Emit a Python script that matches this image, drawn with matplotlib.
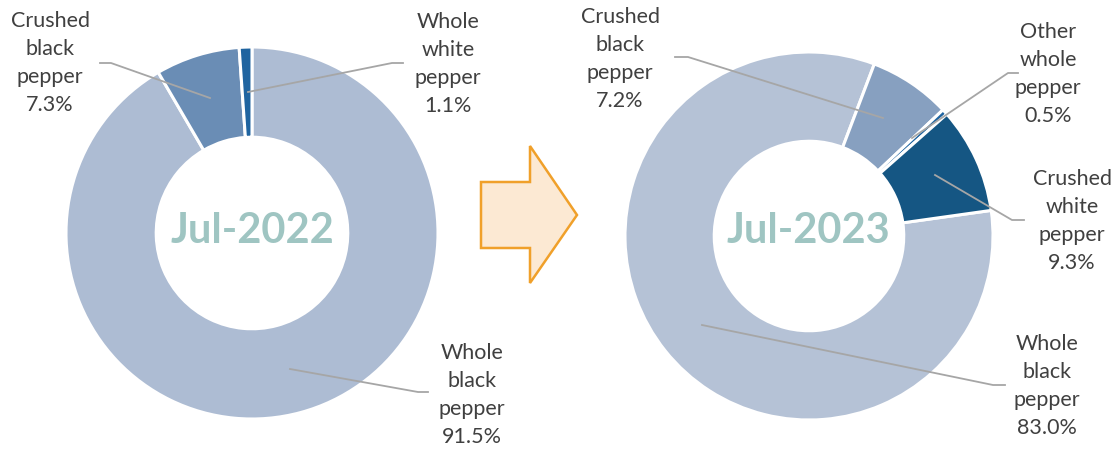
import matplotlib.pyplot as plt
from matplotlib.patches import Polygon

W, H = 1117, 449

# data
labels_2022 = ["Whole\nblack\npepper", "Crushed\nblack\npepper", "Whole\nwhite\npepper"]
values_2022 = [91.5, 7.3, 1.1]
colors_2022 = ["#adbcd3", "#6a8db5", "#1f64a0"]

labels_2023 = ["Whole\nblack\npepper", "Crushed\nblack\npepper", "Other\nwhole\npepper", "Crushed\nwhite\npepper"]
values_2023 = [83.0, 7.2, 0.5, 9.3]
colors_2023 = ["#b5c2d6", "#87a0c0", "#1f64a0", "#155683"]

plt.rcParams['font.family'] = ['Lato', 'DejaVu Sans']

fig = plt.figure(figsize=(W / 100, H / 100), dpi=100)
ax = fig.add_axes([0, 0, 1, 1])


def py(y):
    # pixel row -> data y (y axis points up)
    return H - y


wp = dict(edgecolor="white", linewidth=2.2)
ax.pie(values_2022, colors=colors_2022, startangle=90, counterclock=False,
       center=(252, py(233)), radius=186, wedgeprops=dict(wp, width=186 * 0.485))
ax.pie(values_2023, colors=colors_2023, startangle=8, counterclock=False,
       center=(809, py(236)), radius=184, wedgeprops=dict(wp, width=184 * 0.485))

ax.set_xlim(0, W)
ax.set_ylim(0, H)
ax.set_aspect("auto")
ax.axis("off")

title_kw = dict(ha="center", va="center", fontsize=30, fontweight="bold", color="#9fc5c2")
ax.text(252, py(231), "Jul-2022", **title_kw)
ax.text(808, py(231), "Jul-2023", **title_kw)

label_kw = dict(ha="center", va="center", fontsize=15.5, color="#404040", linespacing=1.5)
line_kw = dict(color="#a6a6a6", lw=1.3)

# label text, value, label centre, leader path (pixel coords)
left_ann = [
    (labels_2022[1], values_2022[1], (50, 63), [(100, 63), (111, 63), (210, 98)]),
    (labels_2022[2], values_2022[2], (448, 64), [(403, 63), (392, 63), (248, 92)]),
    (labels_2022[0], values_2022[0], (472, 395), [(290, 369), (418, 392), (428, 392)]),
]
right_ann = [
    (labels_2023[1], values_2023[1], (620, 59), [(675, 57), (688, 57), (883, 118)]),
    (labels_2023[2], values_2023[2], (1048, 74), [(1018, 73), (1008, 73), (912, 138)]),
    (labels_2023[3], values_2023[3], (1072, 221), [(935, 175), (1012, 220), (1024, 220)]),
    (labels_2023[0], values_2023[0], (1047, 386), [(702, 325), (993, 385), (1005, 385)]),
]
for txt, val, (tx, ty), path in left_ann + right_ann:
    ax.text(tx, py(ty), f"{txt}\n{val:.1f}%", **label_kw)
    ax.plot([p[0] for p in path], [py(p[1]) for p in path], **line_kw)

# arrow between the two donuts
arrow = [(481, 182), (530, 182), (530, 146), (577, 215), (530, 283), (530, 248), (481, 248)]
ax.add_patch(Polygon([(x, py(y)) for x, y in arrow], closed=True,
                     facecolor="#fce9d3", edgecolor="#f0a02a", linewidth=1.8))

fig.savefig("out.png", dpi=100)
